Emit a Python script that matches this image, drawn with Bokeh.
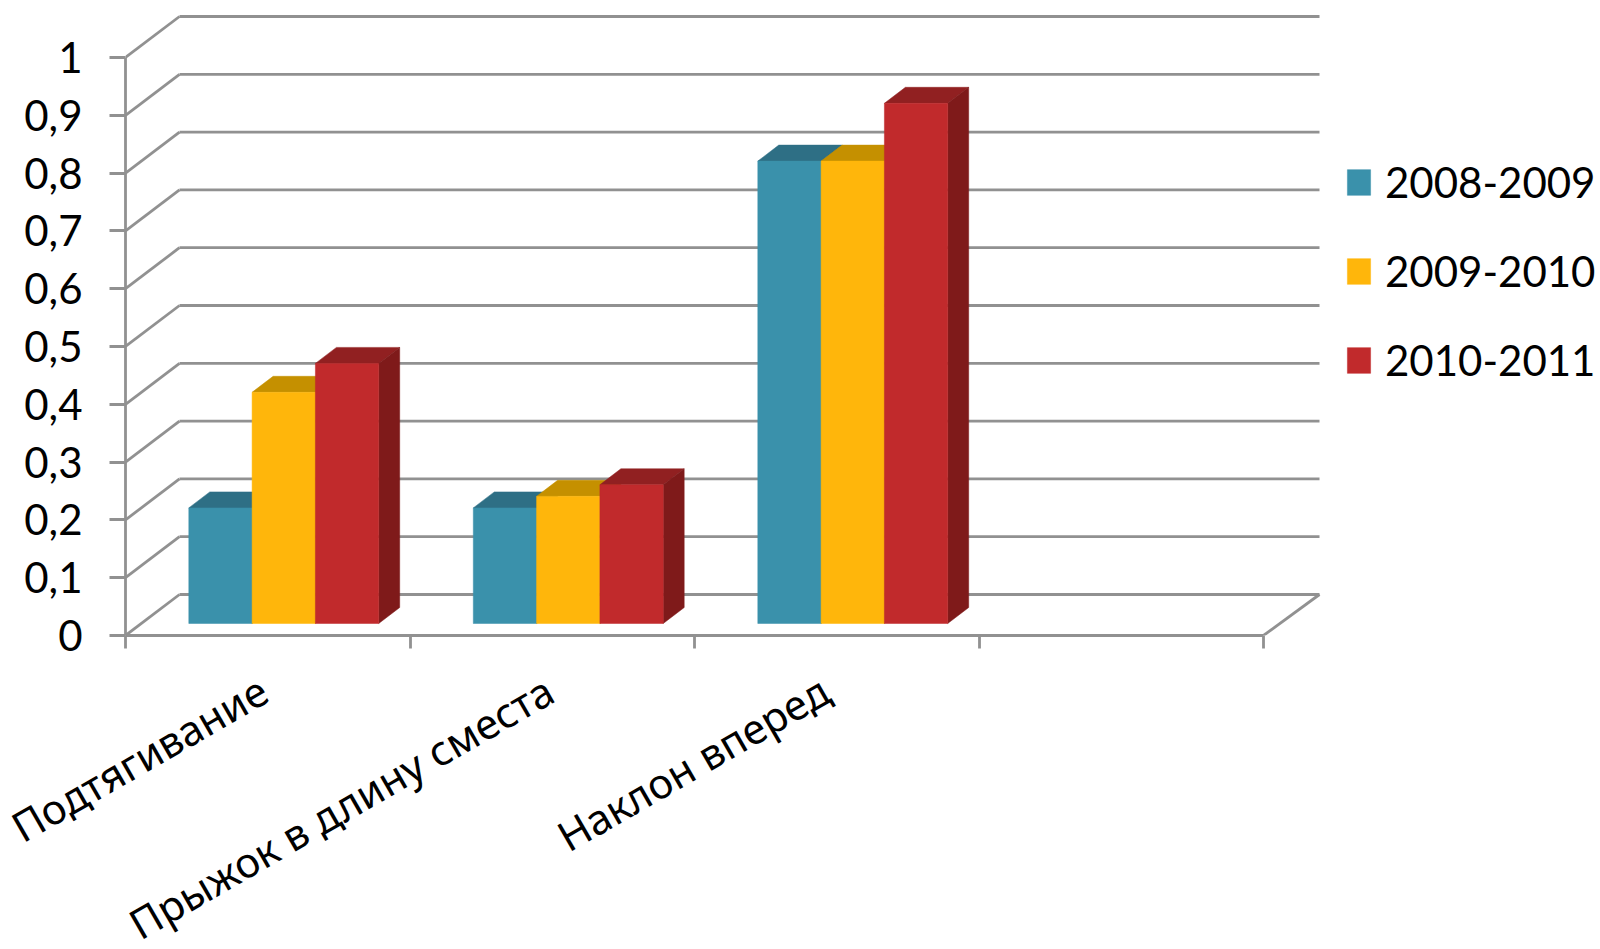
from bokeh.embed import file_html
from bokeh.resources import INLINE
from bokeh.models import FixedTicker, Legend, LegendItem, LinearAxis, Range1d
from bokeh.plotting import figure
import math

categories = ["Подтягивание", "Прыжок в длину сместа", "Наклон вперед"]
series_names = ["2008-2009", "2009-2010", "2010-2011"]
series_2008 = [0.2, 0.2, 0.8]
series_2009 = [0.4, 0.22, 0.8]
series_2010 = [0.45, 0.24, 0.9]
y_ticks = [0, 0.1, 0.2, 0.3, 0.4, 0.5, 0.6, 0.7, 0.8, 0.9, 1]
y_tick_labels = ["0", "0,1", "0,2", "0,3", "0,4", "0,5", "0,6", "0,7", "0,8", "0,9", "1"]

front_colors = ["#3a91ab", "#ffb60b", "#c12a2c"]
top_colors = ["#2e6f85", "#c59000", "#912021"]
side_colors = ["#2a6377", "#b98600", "#7f1a1a"]
grid_color = "#919191"

# Screen scale of the value and category axes, in pixels per unit.
PX_X = 284.5
PX_Y = 578.0
LEFT, BOTTOM_Y, W, H = 125, 635, 1600, 949

# Oblique projection offsets of the fake 3D box, in data units.
WALL_DX, WALL_DY = 54 / PX_X, 41 / PX_Y
WALL_END = 56 / PX_X
BAR_X0, BAR_Y0 = 16 / PX_X, 12 / PX_Y
BAR_DX, BAR_DY = 21 / PX_X, 16 / PX_Y
BAR_W = 63.3 / PX_X
GROUP_START = 0.5 - 1.5 * BAR_W + BAR_X0
N_SLOTS = 4

p = figure(
    width=W, height=H,
    frame_width=W - LEFT, frame_height=BOTTOM_Y,
    x_range=Range1d(0, (W - LEFT) / PX_X),
    y_range=Range1d(0, BOTTOM_Y / PX_Y),
    output_backend="svg", toolbar_location=None,
    x_axis_type=None, y_axis_type=None,
    min_border_left=LEFT, min_border_right=0, min_border_top=0,
    min_border_bottom=H - BOTTOM_Y,
)
p.outline_line_color = None
p.xgrid.visible = False
p.ygrid.visible = False
p.background_fill_color = "white"

# Back wall grid and the slanted lines joining it to the value axis.
p.segment(x0=[0] * len(y_ticks), y0=y_ticks,
          x1=[WALL_DX] * len(y_ticks), y1=[v + WALL_DY for v in y_ticks],
          line_color=grid_color, line_width=2.8)
p.segment(x0=[WALL_DX] * len(y_ticks), y0=[v + WALL_DY for v in y_ticks],
          x1=[N_SLOTS + WALL_END] * len(y_ticks), y1=[v + WALL_DY for v in y_ticks],
          line_color=grid_color, line_width=2.8)
p.segment(x0=[N_SLOTS], y0=[0], x1=[N_SLOTS + WALL_END], y1=[WALL_DY],
          line_color=grid_color, line_width=2.8)

# Each column is drawn as top and side faces, then its front face.
legend_items = []
all_series = [series_2008, series_2009, series_2010]
for s, (name, values) in enumerate(zip(series_names, all_series)):
    lefts = [i + GROUP_START + s * BAR_W for i in range(len(categories))]
    rights = [x + BAR_W for x in lefts]
    tops = [BAR_Y0 + v for v in values]
    p.patches(
        xs=[[l, l + BAR_DX, r + BAR_DX, r] for l, r in zip(lefts, rights)],
        ys=[[t, t + BAR_DY, t + BAR_DY, t] for t in tops],
        fill_color=top_colors[s], line_color=top_colors[s], line_width=0.5)
    p.patches(
        xs=[[r, r + BAR_DX, r + BAR_DX, r] for r in rights],
        ys=[[BAR_Y0, BAR_Y0 + BAR_DY, t + BAR_DY, t] for t in tops],
        fill_color=side_colors[s], line_color=side_colors[s], line_width=0.5)
    front = p.quad(left=lefts, right=rights, bottom=[BAR_Y0] * len(tops), top=tops,
                   fill_color=front_colors[s], line_color=front_colors[s], line_width=0.5)
    legend_items.append(LegendItem(label=name, renderers=[front]))

# Value axis on the frame's left edge, stopped at 1.
y_axis = LinearAxis(
    ticker=FixedTicker(ticks=y_ticks),
    major_label_overrides=dict(zip(y_ticks, y_tick_labels)),
    bounds=(0, 1),
    axis_line_color=grid_color, axis_line_width=2.8,
    major_tick_line_color=grid_color, major_tick_line_width=2.8,
    major_tick_in=0, major_tick_out=16,
    major_label_standoff=27,
    major_label_text_font="Lato", major_label_text_font_size="42px",
    major_label_text_color="#000000",
)
p.add_layout(y_axis, "left")

# Category axis: boundary marks as minor ticks, slanted names on the mid ticks.
mid_ticks = [0.485, 1.49, 2.46]
x_axis = LinearAxis(
    ticker=FixedTicker(ticks=mid_ticks, minor_ticks=list(range(N_SLOTS + 1))),
    major_label_overrides=dict(zip(mid_ticks, categories)),
    major_label_orientation=math.radians(30),
    bounds=(0, N_SLOTS),
    axis_line_color=grid_color, axis_line_width=2.8,
    major_tick_line_color=None, major_tick_in=0, major_tick_out=0,
    minor_tick_line_color=grid_color, minor_tick_line_width=2.8,
    minor_tick_in=0, minor_tick_out=13,
    major_label_standoff=38,
    major_label_text_font="Noto Sans", major_label_text_font_size="41.5px",
    major_label_text_color="#000000",
)
p.add_layout(x_axis, "below")

legend = Legend(
    items=legend_items, location=(1219, 250),
    glyph_width=29, glyph_height=32, label_standoff=12, spacing=39,
    padding=0, margin=0,
    background_fill_alpha=0, border_line_color=None,
    label_text_font="Lato", label_text_font_size="42px",
    label_text_color="#000000",
)
p.add_layout(legend)

open("out.html", "w").write(file_html(p, INLINE))
